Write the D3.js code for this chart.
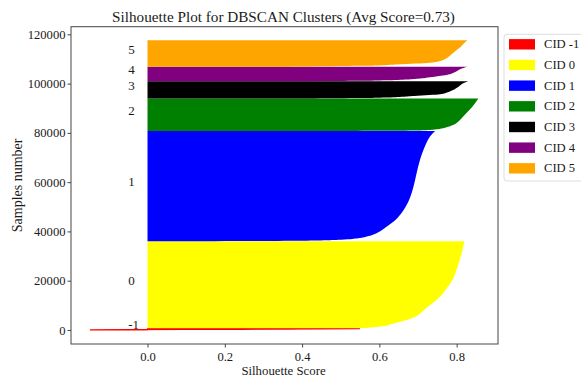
<!DOCTYPE html>
<html>
<head>
<meta charset="utf-8">
<script src="https://cdn.jsdelivr.net/npm/d3@7"></script>
<style>
  html, body { margin: 0; padding: 0; background: #fff; }
  svg { display: block; }
</style>
</head>
<body>
<svg id="chart" width="581" height="381"></svg>
<script>
// ---- data ----
const clusterIds = ["-1", "0", "1", "2", "3", "4", "5"];
const clusterColors = ["red", "yellow", "blue", "green", "black", "purple", "orange"];
// cumulative sample boundaries of each cluster block [start, end]
const clusterBounds = [[0, 500], [500, 36000], [36000, 80800], [80800, 94000],
                       [94000, 101000], [101000, 106800], [106800, 117600]];
// sorted silhouette profile of each cluster: [sample number, silhouette value]
const profileNoise = [[0, -0.149], [120, -0.05], [250, 0.2], [400, 0.45], [500, 0.55]];
const profile0 = [[500, 0.53], [800, 0.56], [1300, 0.60], [2500, 0.635], [4000, 0.67], [6000, 0.70],
                  [8000, 0.715], [10500, 0.735], [13500, 0.757], [17000, 0.775], [20500, 0.79],
                  [24500, 0.80], [28500, 0.808], [32500, 0.815], [36000, 0.82]];
const profile1 = [[36000, 0.05], [36200, 0.40], [36600, 0.50], [37200, 0.545], [38000, 0.57],
                  [39500, 0.595], [41500, 0.615], [44000, 0.637], [47000, 0.655], [50000, 0.668],
                  [54000, 0.68], [58000, 0.688], [62000, 0.694], [66000, 0.70], [70000, 0.707],
                  [73000, 0.714], [76000, 0.722], [78500, 0.731], [80800, 0.744]];
const profile2 = [[80800, 0.40], [80900, 0.65], [81100, 0.72], [81500, 0.75], [82200, 0.772],
                  [83200, 0.791], [84800, 0.806], [86600, 0.817], [88500, 0.828], [90500, 0.84],
                  [92300, 0.849], [94000, 0.856]];
const profile3 = [[94000, 0.40], [94300, 0.60], [95000, 0.69], [95650, 0.757], [96500, 0.777],
                  [97400, 0.791], [98700, 0.805], [100100, 0.817], [101000, 0.83]];
const profile4 = [[101000, 0.40], [101300, 0.60], [102000, 0.70], [102600, 0.731], [103500, 0.774],
                  [104600, 0.795], [105800, 0.809], [106800, 0.828]];
const profile5 = [[106800, 0.35], [107200, 0.55], [107800, 0.645], [108500, 0.731], [109300, 0.76],
                  [110300, 0.774], [111800, 0.786], [113600, 0.80], [115200, 0.812], [116500, 0.82],
                  [117600, 0.828]];
const profiles = [profileNoise, profile0, profile1, profile2, profile3, profile4, profile5];
const xTicks = [0.0, 0.2, 0.4, 0.6, 0.8];
const yTicks = [0, 20000, 40000, 60000, 80000, 100000, 120000];
const titleText = "Silhouette Plot for DBSCAN Clusters (Avg Score=0.73)";
const xLabel = "Silhouette Score";
const yLabel = "Samples number";
const labelX = -0.05;

// ---- layout ----
const FONT = '"Liberation Serif", "Times New Roman", Tinos, serif';
const L = 71, R = 498, T = 26.7, B = 344;
const svg = d3.select("#chart");
const x = d3.scaleLinear().domain([-0.198, 0.907]).range([L, R]);
const y = d3.scaleLinear().domain([-5700, 123100]).range([B, T]);
const ink = "#1a1a1a";

// clusters
const area = d3.area()
  .y(d => y(d[0]))
  .x0(() => x(0))
  .x1(d => x(d[1]))
  .curve(d3.curveMonotoneY);

const g = svg.append("g");
profiles.forEach((p, i) => {
  g.append("path").attr("d", area(p)).attr("fill", clusterColors[i]).attr("stroke", "none");
});
// noise cluster is a thin band: draw its outline so it stays visible
g.append("path").attr("d", area(profileNoise)).attr("fill", "none")
  .attr("stroke", "red").attr("stroke-width", 1.2);

// cluster labels
clusterIds.forEach((id, i) => {
  const mid = (clusterBounds[i][0] + clusterBounds[i][1]) / 2;
  svg.append("text").attr("x", x(labelX)).attr("y", y(mid))
    .style("font-family", FONT).style("font-size", "13px").attr("fill", ink).text(id);
});

// axes
const xAxis = d3.axisBottom(x).tickValues(xTicks).tickFormat(d3.format(".1f")).tickSize(3.5).tickPadding(5);
const yAxis = d3.axisLeft(y).tickValues(yTicks).tickFormat(d => String(d)).tickSize(3.5).tickPadding(2);
const gx = svg.append("g").attr("transform", `translate(0,${B})`).call(xAxis);
const gy = svg.append("g").attr("transform", `translate(${L},0)`).call(yAxis);
[gx, gy].forEach(a => {
  a.attr("font-family", null).attr("font-size", null);
  a.select(".domain").remove();
  a.selectAll("line").attr("stroke", "#444");
  a.selectAll("text").style("font-size", "12.6px").attr("fill", ink)
    .style("font-family", FONT);
});

// frame
svg.append("rect").attr("x", L).attr("y", T).attr("width", R - L).attr("height", B - T)
  .attr("fill", "none").attr("stroke", "#444").attr("stroke-width", 1);

// title & labels
svg.append("text").attr("x", (L + R) / 2 - 1).attr("y", 22).attr("text-anchor", "middle")
  .style("font-family", FONT).style("font-size", "15.2px").attr("fill", ink).text(titleText);
svg.append("text").attr("x", (L + R) / 2 - 1).attr("y", 375).attr("text-anchor", "middle")
  .style("font-family", FONT).style("font-size", "12.8px").attr("fill", ink).text(xLabel);
svg.append("text").attr("transform", `translate(22,${(T + B) / 2}) rotate(-90)`)
  .attr("text-anchor", "middle").style("font-family", FONT).style("font-size", "14px")
  .attr("fill", ink).text(yLabel);

// legend
const lg = svg.append("g");
lg.append("rect").attr("x", 504).attr("y", 34.3).attr("width", 90).attr("height", 146.7)
  .attr("rx", 3).attr("fill", "#fff").attr("stroke", "#ddd");
clusterIds.forEach((id, i) => {
  const cy = 44.3 + i * 20.67;
  lg.append("rect").attr("x", 509).attr("y", cy - 5.2).attr("width", 26).attr("height", 10.4)
    .attr("fill", clusterColors[i]);
  lg.append("text").attr("x", 544).attr("y", cy).attr("dominant-baseline", "central")
    .style("font-family", FONT).style("font-size", "12.6px").attr("fill", ink).text("CID " + id);
});
</script>
</body>
</html>
